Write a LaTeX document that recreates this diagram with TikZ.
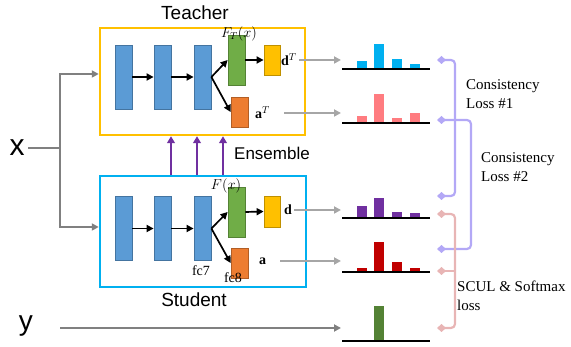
\documentclass[tikz,border=0pt]{standalone}
\usepackage{fontspec}
\setmainfont{Liberation Serif}
\newfontfamily\arialfont{Liberation Sans}
\usepackage{amssymb}
\usepackage{tikz}
\usetikzlibrary{arrows.meta}

\definecolor{layerblue}{HTML}{5B9BD5}
\definecolor{headgreen}{HTML}{70AD47}
\definecolor{headyellow}{HTML}{FFC000}
\definecolor{headorange}{HTML}{ED7D31}
\definecolor{teachcol}{HTML}{FFC000}
\definecolor{studcol}{HTML}{00B0F0}
\definecolor{enscol}{HTML}{7030A0}
\definecolor{barblue}{HTML}{00B0F0}
\definecolor{barpink}{HTML}{FF7C80}
\definecolor{barpurple}{HTML}{7030A0}
\definecolor{barred}{HTML}{C00000}
\definecolor{bargreen}{HTML}{548235}
\definecolor{lavender}{HTML}{B3A8F6}
\definecolor{rosy}{HTML}{E8B5B5}

\begin{document}
\begin{tikzpicture}[x=1pt, y=-1pt,
                    block/.style={rectangle, inner sep=0pt, line width=0.8pt},
                    layer/.style={block, fill=layerblue, draw=layerblue!75!black,
                                  minimum width=17pt, minimum height=64pt},
                    netbox/.style={rectangle, line width=2.5pt, inner sep=0pt},
                    flow/.style={line width=1.7pt, -{Triangle[length=7pt,width=7pt]}},
                    inline/.style={draw=black!50, line width=2pt},
                    outline/.style={draw=black!35, line width=2pt, -{Triangle[length=7pt,width=7pt]}},
                    ens/.style={draw=enscol, line width=1.3pt, -{Triangle[length=7pt,width=8pt]}},
                    axis/.style={line width=1.4pt},
                    lab/.style={font=\fontsize{14}{16}\selectfont, inner sep=1pt},
                    losstext/.style={font=\fontsize{15}{19}\selectfont, align=left,
                                     inner sep=0pt, anchor=west},
                    tipdia/.style={arrows={Diamond[length=9pt,width=8pt]-Diamond[length=9pt,width=8pt]}},
                    lossA/.style={draw=lavender, line width=2.2pt, rounded corners=4pt, tipdia},
                    lossB/.style={draw=rosy, line width=2.2pt, rounded corners=4pt, tipdia}]
  \path[use as bounding box] (0,0) rectangle (571,347);

  \node[netbox, draw=teachcol, minimum width=205pt, minimum height=107pt] (teacher) at (202.5,81.5) {};
  \node[netbox, draw=studcol, minimum width=206pt, minimum height=111pt] (student) at (203,231.5) {};

  \foreach \n/\px in {1/123.5, 2/162.5, 3/202.5} {
    \node[layer] (t\n) at (\px,77) {};
    \node[layer] (s\n) at (\px,228.5) {};
  }

  \node[block, fill=headgreen, draw=headgreen!75!black, minimum width=17pt, minimum height=50pt] (tg) at (236.5,60) {};
  \node[block, fill=headyellow, draw=headyellow!75!black, minimum width=16pt, minimum height=30pt] (ty) at (272,60) {};
  \node[block, fill=headorange, draw=headorange!75!black, minimum width=17pt, minimum height=30pt] (to) at (239.5,112) {};
  \node[block, fill=headgreen, draw=headgreen!75!black, minimum width=17pt, minimum height=50pt] (sg) at (236.5,212) {};
  \node[block, fill=headyellow, draw=headyellow!75!black, minimum width=16pt, minimum height=31pt] (sy) at (272,211.5) {};
  \node[block, fill=headorange, draw=headorange!75!black, minimum width=17pt, minimum height=30pt] (so) at (239.5,263) {};

  \foreach \i/\j in {t1.east/t2.west, t2.east/t3.west, t3.east/tg.west, t3.east/to.west, tg.east/ty.west,
                     s1.east/s2.west, s2.east/s3.west, s3.east/sg.west, s3.east/so.west, sg.east/sy.west} {
    \draw[flow] (\i) -- (\j);
  }

  \node[lab] (fT) at (239,34) {$F_T(x)$};
  \node[lab, anchor=west] (dT) at (280,60) {$\mathbf{d}^T$};
  \node[lab, anchor=west] (aT) at (254,113) {$\mathbf{a}^T$};
  \node[lab] (fS) at (226,186) {$F(x)$};
  \node[lab, anchor=west] (dS) at (283,210) {$\mathbf{d}$};
  \node[lab, anchor=west] (aS) at (258,261) {$\mathbf{a}$};
  \node[lab] (fc7) at (201,271) {fc7};
  \node[lab] (fc8) at (233,278) {fc8};

  \node[font=\arialfont\fontsize{19}{22}\selectfont] (tname) at (195,13) {Teacher};
  \node[font=\arialfont\fontsize{19}{22}\selectfont] (sname) at (194,300) {Student};
  \node[font=\arialfont\fontsize{17}{20}\selectfont] (ename) at (272,153) {Ensemble};
  \node[font=\arialfont\fontsize{30}{30}\selectfont] (xin) at (17,148) {x};
  \node[font=\arialfont\fontsize{28}{30}\selectfont] (yin) at (26,326) {y};

  \foreach \px in {171,197,223} {
    \draw[ens] (\px,0 |- student.north) -- (\px,0 |- teacher.south);
  }

  \coordinate (split) at (60,148);
  \coordinate (ystart) at (60,328);
  \draw[inline] (xin) -- (split);
  \draw[inline, -{Triangle[length=7pt,width=7pt]}] (split) |- ([yshift=7.5pt]teacher.west);
  \draw[inline, -{Triangle[length=7pt,width=7pt]}] (split) |- ([yshift=4.5pt]student.west);

  \coordinate (hd1) at (341,60);
  \coordinate (ha1) at (341,113);
  \coordinate (hd2) at (341,210);
  \coordinate (ha2) at (341,261);
  \coordinate (hy) at (341,328);
  \foreach \i/\j/\gap in {dT/hd1/1, aT/ha1/13, dS/hd2/1, aS/ha2/13} {
    \draw[outline] ([xshift=\gap pt]\i.east) -- (\j);
  }
  \draw[inline, -{Triangle[length=7pt,width=7pt]}] (ystart) -- (hy);

  \foreach \yb/\col/\ha/\hb/\hc/\hd in {69/barblue/8/25/10/5, 123/barpink/7/29/5/10,
                                        218/barpurple/12/20/6/5, 272/barred/4/30/10/4} {
    \foreach \bx/\bh in {357/\ha, 374/\hb, 392/\hc, 410/\hd} {
      \fill[\col] (\bx,\yb) rectangle ++(10,-\bh);
    }
    \draw[axis] (342,\yb) -- (430,\yb);
  }
  \fill[bargreen] (374,341) rectangle ++(10,-35);
  \draw[axis] (342,341) -- (430,341);

  \coordinate (lc1) at (437,60);
  \coordinate (lc2) at (437,120);
  \coordinate (ls1) at (437,196);
  \coordinate (ls2) at (437,249);
  \coordinate (lp1) at (437,214);
  \coordinate (lp2) at (437,271);
  \coordinate (lp3) at (437,328);
  \draw[lossA] (lc1) -- ++(18,0) |- (ls1);
  \draw[lossA] (lc2) -- ++(34,0) |- (ls2);
  \draw[lossB] (lp1) -- ++(18,0) |- (lp3);
  \draw[lossB, arrows={Diamond[length=9pt,width=8pt]-}] (lp2) -- ++(18,0);

  \node[losstext] (cl1) at (466,94.5) {Consistency\\Loss \#1};
  \node[losstext] (cl2) at (481,167.5) {Consistency\\Loss \#2};
  \node[losstext] (sl) at (457,296) {SCUL \& Softmax\\loss};
\end{tikzpicture}
\end{document}
